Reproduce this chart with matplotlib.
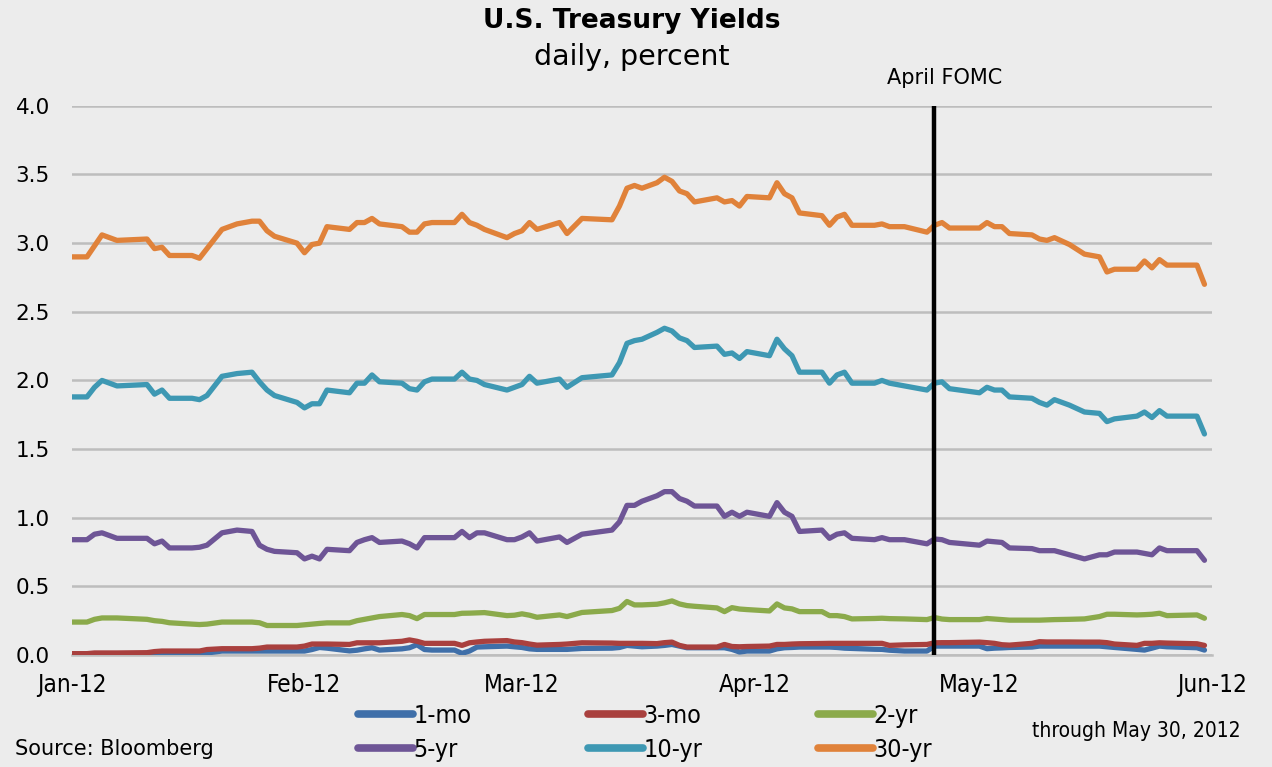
import matplotlib
matplotlib.use("Agg")
import matplotlib.pyplot as plt
import matplotlib.dates as mdates
import matplotlib.transforms as mtransforms
import numpy as np
import pandas as pd

# ---- data (days since 2012-01-01 for each observation) ----
day = [0, 2, 3, 4, 6, 10, 11, 12, 13, 16, 17, 18, 20, 22, 24, 25, 26, 27, 30, 31,
       32, 33, 34, 37, 38, 39, 40, 41, 44, 45, 46, 47, 48, 51, 52, 53, 54, 55, 58, 59,
       60, 61, 62, 65, 66, 68, 72, 73, 74, 75, 76, 78, 79, 80, 81, 82, 83, 86, 87, 88,
       89, 90, 93, 94, 95, 96, 97, 100, 101, 102, 103, 104, 107, 108, 109, 111, 114, 115, 116, 117,
       121, 122, 123, 124, 125, 128, 129, 130, 131, 133, 135, 137, 138, 139, 142, 143, 144, 145, 146, 150,
       151]

y30 = [2.90, 2.90, 2.98, 3.06, 3.02, 3.03, 2.96, 2.97, 2.91, 2.91, 2.89, 2.96, 3.10, 3.14, 3.16, 3.16, 3.09, 3.05, 3.00, 2.93,
       2.99, 3.00, 3.12, 3.10, 3.15, 3.15, 3.18, 3.14, 3.12, 3.08, 3.08, 3.14, 3.15, 3.15, 3.21, 3.15, 3.13, 3.10, 3.04, 3.07,
       3.09, 3.15, 3.10, 3.15, 3.07, 3.18, 3.17, 3.27, 3.40, 3.42, 3.40, 3.44, 3.48, 3.45, 3.38, 3.36, 3.30, 3.33, 3.30, 3.31,
       3.27, 3.34, 3.33, 3.44, 3.36, 3.33, 3.22, 3.20, 3.13, 3.19, 3.21, 3.13, 3.13, 3.14, 3.12, 3.12, 3.08, 3.13, 3.15, 3.11,
       3.11, 3.15, 3.12, 3.12, 3.07, 3.06, 3.03, 3.02, 3.04, 2.99, 2.92, 2.90, 2.79, 2.81, 2.81, 2.87, 2.82, 2.88, 2.84, 2.84,
       2.70]

y10 = [1.88, 1.88, 1.95, 2.00, 1.96, 1.97, 1.90, 1.93, 1.87, 1.87, 1.86, 1.89, 2.03, 2.05, 2.06, 1.99, 1.93, 1.89, 1.84, 1.80,
       1.83, 1.83, 1.93, 1.91, 1.98, 1.98, 2.04, 1.99, 1.98, 1.94, 1.93, 1.99, 2.01, 2.01, 2.06, 2.01, 2.00, 1.97, 1.93, 1.95,
       1.97, 2.03, 1.98, 2.01, 1.95, 2.02, 2.04, 2.13, 2.27, 2.29, 2.30, 2.35, 2.38, 2.36, 2.31, 2.29, 2.24, 2.25, 2.19, 2.20,
       2.16, 2.21, 2.18, 2.30, 2.23, 2.18, 2.06, 2.06, 1.98, 2.04, 2.06, 1.98, 1.98, 2.00, 1.98, 1.96, 1.93, 1.98, 1.99, 1.94,
       1.91, 1.95, 1.93, 1.93, 1.88, 1.87, 1.84, 1.82, 1.86, 1.82, 1.77, 1.76, 1.70, 1.72, 1.74, 1.77, 1.73, 1.78, 1.74, 1.74,
       1.61]

y5 = [0.84, 0.84, 0.88, 0.89, 0.85, 0.85, 0.81, 0.83, 0.78, 0.78, 0.785, 0.80, 0.89, 0.91, 0.90, 0.80, 0.77, 0.755, 0.745, 0.70,
      0.72, 0.70, 0.77, 0.76, 0.82, 0.84, 0.855, 0.82, 0.83, 0.81, 0.78, 0.855, 0.855, 0.855, 0.90, 0.855, 0.89, 0.89, 0.84, 0.84,
      0.86, 0.89, 0.83, 0.86, 0.82, 0.88, 0.91, 0.97, 1.09, 1.09, 1.12, 1.16, 1.19, 1.19, 1.14, 1.12, 1.085, 1.085, 1.01, 1.04,
      1.01, 1.04, 1.01, 1.11, 1.04, 1.01, 0.90, 0.91, 0.85, 0.88, 0.89, 0.85, 0.84, 0.855, 0.84, 0.84, 0.81, 0.845, 0.84, 0.82,
      0.80, 0.83, 0.825, 0.82, 0.78, 0.775, 0.76, 0.76, 0.76, 0.73, 0.70, 0.73, 0.73, 0.75, 0.75, 0.74, 0.73, 0.78, 0.76, 0.76,
      0.69]

y2 = [0.24, 0.24, 0.26, 0.27, 0.27, 0.26, 0.25, 0.245, 0.235, 0.225, 0.222, 0.225, 0.24, 0.24, 0.24, 0.235, 0.215, 0.215, 0.215, 0.22,
      0.225, 0.23, 0.234, 0.234, 0.25, 0.26, 0.27, 0.28, 0.295, 0.287, 0.265, 0.295, 0.295, 0.295, 0.304, 0.305, 0.307, 0.309, 0.287, 0.29,
      0.30, 0.29, 0.275, 0.292, 0.28, 0.31, 0.324, 0.34, 0.39, 0.365, 0.365, 0.37, 0.38, 0.394, 0.372, 0.36, 0.355, 0.343, 0.316, 0.345,
      0.335, 0.331, 0.321, 0.372, 0.343, 0.336, 0.316, 0.316, 0.287, 0.287, 0.28, 0.263, 0.266, 0.268, 0.265, 0.263, 0.258, 0.273, 0.262, 0.258,
      0.258, 0.266, 0.262, 0.258, 0.254, 0.254, 0.254, 0.256, 0.258, 0.26, 0.263, 0.28, 0.297, 0.297, 0.292, 0.294, 0.297, 0.304, 0.287, 0.292,
      0.268]

y3m = [0.01, 0.01, 0.015, 0.015, 0.015, 0.017, 0.025, 0.029, 0.029, 0.029, 0.029, 0.04, 0.046, 0.046, 0.046, 0.05, 0.058, 0.058, 0.058, 0.065,
       0.08, 0.08, 0.08, 0.077, 0.089, 0.089, 0.089, 0.089, 0.10, 0.11, 0.10, 0.085, 0.085, 0.085, 0.07, 0.089, 0.095, 0.10, 0.105, 0.095,
       0.09, 0.08, 0.072, 0.077, 0.08, 0.089, 0.087, 0.085, 0.085, 0.085, 0.085, 0.083, 0.09, 0.094, 0.07, 0.058, 0.058, 0.058, 0.077, 0.062,
       0.06, 0.062, 0.065, 0.077, 0.077, 0.08, 0.082, 0.084, 0.085, 0.085, 0.085, 0.085, 0.085, 0.085, 0.07, 0.074, 0.077, 0.089, 0.09, 0.09,
       0.094, 0.09, 0.085, 0.075, 0.072, 0.085, 0.097, 0.095, 0.095, 0.095, 0.094, 0.094, 0.09, 0.08, 0.07, 0.085, 0.085, 0.089, 0.087, 0.082,
       0.07]

y1m = [0.005, 0.005, 0.005, 0.005, 0.005, 0.005, 0.012, 0.017, 0.015, 0.013, 0.012, 0.015, 0.029, 0.029, 0.029, 0.029, 0.029, 0.029, 0.029, 0.029,
       0.04, 0.055, 0.05, 0.03, 0.035, 0.045, 0.053, 0.036, 0.045, 0.053, 0.075, 0.04, 0.036, 0.036, 0.012, 0.029, 0.058, 0.06, 0.065, 0.06,
       0.055, 0.045, 0.041, 0.041, 0.041, 0.048, 0.05, 0.055, 0.07, 0.065, 0.06, 0.065, 0.07, 0.077, 0.065, 0.053, 0.053, 0.053, 0.053, 0.041,
       0.022, 0.029, 0.029, 0.045, 0.053, 0.055, 0.058, 0.058, 0.058, 0.055, 0.05, 0.048, 0.042, 0.041, 0.035, 0.029, 0.029, 0.065, 0.065, 0.065,
       0.065, 0.046, 0.05, 0.052, 0.055, 0.058, 0.065, 0.065, 0.065, 0.065, 0.065, 0.065, 0.06, 0.055, 0.041, 0.036, 0.05, 0.065, 0.06, 0.053,
       0.036]

series_names = ["1-mo", "3-mo", "2-yr", "5-yr", "10-yr", "30-yr"]
series_vals = [y1m, y3m, y2, y5, y10, y30]
colors = ["#3F6FA9", "#A9403E", "#8BAA4B", "#6E5596", "#3E98B3", "#E0823A"]

fomc_date = "2012-04-25"
fomc_label = "April FOMC"
yticks = [0.0, 0.5, 1.0, 1.5, 2.0, 2.5, 3.0, 3.5, 4.0]

dates = pd.Timestamp("2012-01-01") + pd.to_timedelta(day, unit="D")

# ---- figure ----
bg = "#ECECEC"
fig = plt.figure(figsize=(12.72, 7.67), dpi=100, facecolor=bg)
ax = fig.add_axes([0.0566, 0.146, 0.8962, 0.716])
ax.set_facecolor("none")

lines = {}
for name, vals, c in zip(series_names, series_vals, colors):
    ln, = ax.plot(dates, vals, color=c, lw=3.8, solid_joinstyle="round",
                  solid_capstyle="round", label=name, zorder=3)
    lines[name] = ln

ax.set_ylim(0, 4.0)
ax.set_yticks(yticks)
ax.set_yticklabels([f"{v:.1f}" for v in yticks])
ax.set_xlim(pd.Timestamp("2012-01-01"), pd.Timestamp("2012-06-01"))
ax.xaxis.set_major_locator(mdates.MonthLocator())
ax.xaxis.set_major_formatter(mdates.DateFormatter("%b-%y"))

ax.grid(axis="y", color="#BDBDBD", lw=1.8, zorder=1)
ax.grid(axis="x", visible=False)
for s in ["top", "right", "left"]:
    ax.spines[s].set_visible(False)
ax.spines["bottom"].set_color("#BDBDBD")
ax.spines["bottom"].set_linewidth(1.8)
ax.tick_params(length=0)
for lab in ax.get_yticklabels():
    lab.set_fontsize(15.5)
    lab.set_family(["DejaVu Sans"])
ax.tick_params(axis="y", pad=16)
for lab in ax.get_xticklabels():
    lab.set_fontsize(17.5)
    lab.set_family(["DejaVu Sans"])
    lab.set_fontstretch("condensed")
ax.tick_params(axis="x", pad=13)

# FOMC line
fd = pd.Timestamp(fomc_date)
ax.axvline(fd, color="black", lw=3.2, zorder=4)
offset = mtransforms.offset_copy(ax.transData, fig=fig, x=10, y=0, units="dots")
ax.text(fd, 4.13, fomc_label, ha="center", va="bottom", fontsize=15,
        family=["DejaVu Sans"], color="black", transform=offset)

# titles
fig.text(0.497, 0.972, "U.S. Treasury Yields", ha="center", va="center",
         fontsize=19, fontweight="bold", family=["DejaVu Sans"])
fig.text(0.497, 0.926, "daily, percent", ha="center", va="center",
         fontsize=20.5, family=["DejaVu Sans"])

# legend
order = ["1-mo", "5-yr", "3-mo", "10-yr", "2-yr", "30-yr"]
leg = fig.legend([lines[n] for n in order], order, ncol=3,
                 loc="upper left", bbox_to_anchor=(0.272, 0.099),
                 frameon=False, handlelength=2.2, handletextpad=0.0,
                 columnspacing=4.66, labelspacing=0.42, borderpad=0,
                 prop={"family": ["DejaVu Sans"], "size": 18, "stretch": "condensed"})
for h in leg.get_lines():
    h.set_linewidth(5.5)

fig.text(0.012, 0.024, "Source: Bloomberg", ha="left", va="center",
         fontsize=15, family=["DejaVu Sans"])
fig.text(0.811, 0.047, "through May 30, 2012", ha="left", va="center",
         fontsize=15, family=["DejaVu Sans"], fontstretch="condensed")

fig.savefig("out.png", dpi=100, facecolor=bg)
